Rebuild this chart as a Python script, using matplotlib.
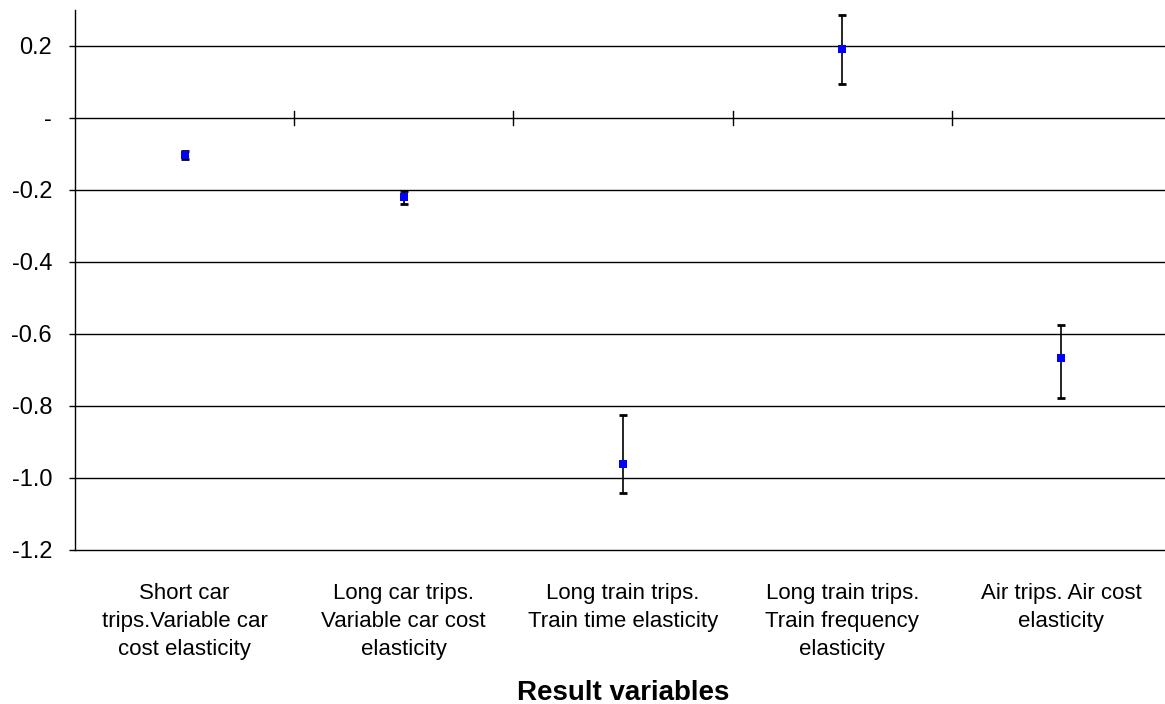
import matplotlib
matplotlib.use("Agg")
import matplotlib.pyplot as plt
import numpy as np

plt.rcParams['font.family'] = ['Liberation Sans', 'DejaVu Sans']

# 數據
categories = [
    "Short car\ntrips.Variable car\ncost elasticity",
    "Long car trips.\nVariable car cost\nelasticity",
    "Long train trips.\nTrain time elasticity",
    "Long train trips.\nTrain frequency\nelasticity",
    "Air trips. Air cost\nelasticity",
]
values = [-0.103, -0.220, -0.961, 0.192, -0.667]
upper = [-0.092, -0.202, -0.825, 0.285, -0.575]
lower = [-0.114, -0.239, -1.044, 0.094, -0.780]
y_ticks = [0.2, 0.0, -0.2, -0.4, -0.6, -0.8, -1.0, -1.2]
y_labels = ["0.2", "-", "-0.2", "-0.4", "-0.6", "-0.8", "-1.0", "-1.2"]

fig = plt.figure(figsize=(11.65, 7.04), dpi=100)
ax = fig.add_axes([75 / 1165, 1 - 549.5 / 704, 1096 / 1165, (549.5 - 10) / 704])

x = np.arange(len(categories)) + 0.5
vals = np.array(values)
err = [vals - np.array(lower), np.array(upper) - vals]

# 網格線
for t in y_ticks:
    ax.axhline(t, color='black', lw=1.0, zorder=1, clip_on=False)

# 分類邊界刻度（在零線上）
for b in range(1, len(categories)):
    ax.plot([b, b], [-0.02, 0.02], color='black', lw=1.0, zorder=2)

ax.errorbar(x, vals, yerr=err, fmt='none', ecolor='black', elinewidth=1.2,
            capsize=3, capthick=2, zorder=3)
ax.scatter(x, vals, marker='s', s=34, color='#0000ff', zorder=4, linewidths=0)

ax.set_xlim(0, len(categories))
ax.set_ylim(-1.2, 0.3)
ax.set_yticks(y_ticks)
ax.set_yticklabels(y_labels, fontsize=17)
ax.tick_params(axis='y', length=4.5, width=1, pad=12)
ax.set_xticks(x)
ax.set_xticklabels(categories, fontsize=16, linespacing=1.45)
ax.tick_params(axis='x', length=0, pad=24)

for s in ['top', 'right', 'bottom']:
    ax.spines[s].set_visible(False)
ax.spines['left'].set_linewidth(1.0)

fig.text(623 / 1165, 1 - 700 / 704, "Result variables", fontsize=20,
         fontweight='bold', ha='center', va='baseline')

fig.savefig("out.png", dpi=100)
